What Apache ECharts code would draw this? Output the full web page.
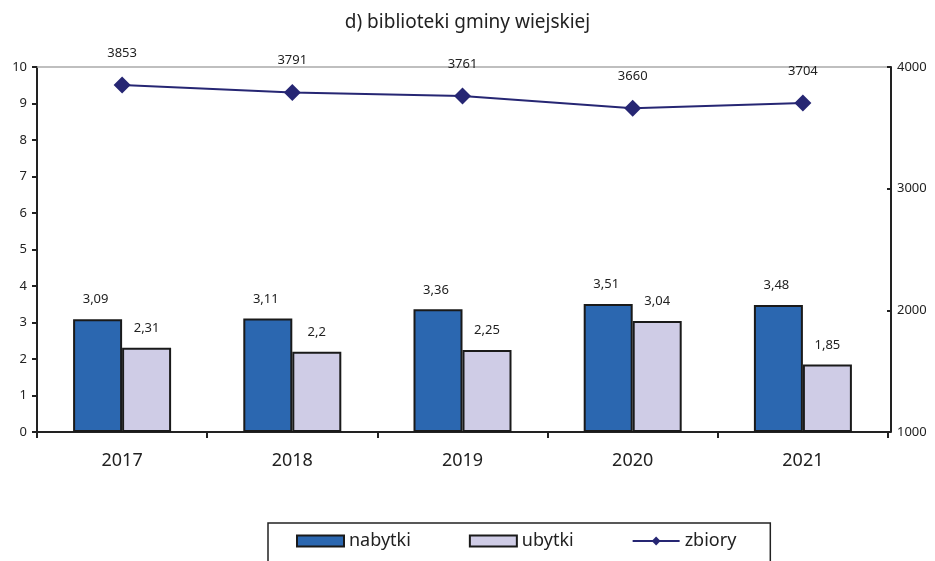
<!DOCTYPE html>
<html><head><meta charset="utf-8">
<script src="https://cdn.jsdelivr.net/npm/echarts@6/dist/echarts.min.js"></script>
<style>html,body{margin:0;padding:0;background:#fff}#c{width:935px;height:561px}</style>
</head><body><div id="c"></div>
<script>
const categories = ['2017','2018','2019','2020','2021'];
const nabytki = [3.09, 3.11, 3.36, 3.51, 3.48];
const ubytki = [2.31, 2.2, 2.25, 3.04, 1.85];
const zbiory = [3853, 3791, 3761, 3660, 3704];
const leftTicks = {min:0, max:10, interval:1};
const rightTicks = {min:1000, max:4000, interval:1000};

const font = 'Noto Sans';
const chart = echarts.init(document.getElementById('c'));
const comma = p => String(p.value).replace('.', ',');
chart.setOption({
  animation: false,
  textStyle: {fontFamily: font},
  title: {text: 'd) biblioteki gminy wiejskiej', left: 'center', top: 8,
    textStyle: {fontFamily: font, fontSize: 19, fontWeight: 'normal', color: '#222'}},
  grid: {left: 37, right: 47, top: 67, bottom: 129},
  legend: {
    left: 268, top: 523,
    padding: [9, 34, 20, 28],
    borderColor: '#222', borderWidth: 1.5,
    itemWidth: 47, itemHeight: 11, itemGap: 58,
    textStyle: {fontFamily: font, fontSize: 18, color: '#222'},
    data: [
      {name: 'nabytki', icon: 'rect'},
      {name: 'ubytki', icon: 'rect'},
      {name: 'zbiory'}
    ]
  },
  xAxis: [{
    type: 'category', data: categories,
    axisLine: {lineStyle: {color: '#222', width: 2}},
    axisTick: {show: true, length: 6, lineStyle: {color: '#222', width: 2}},
    axisLabel: {fontSize: 18, color: '#222', margin: 20}
  }, {
    type: 'category', data: categories, position: 'top',
    axisLine: {lineStyle: {color: '#aaa', width: 1.5}},
    axisTick: {show: false}, axisLabel: {show: false}
  }],
  yAxis: [{
    type: 'value', min: leftTicks.min, max: leftTicks.max, interval: leftTicks.interval,
    axisLine: {show: true, lineStyle: {color: '#222', width: 2}},
    axisTick: {show: true, length: 5, lineStyle: {color: '#222', width: 2}},
    axisLabel: {fontSize: 13, color: '#222', margin: 10},
    splitLine: {show: false}
  }, {
    type: 'value', min: rightTicks.min, max: rightTicks.max, interval: rightTicks.interval,
    position: 'right', offset: 3,
    axisLine: {show: true, lineStyle: {color: '#222', width: 2}},
    axisTick: {show: true, inside: true, length: 4, lineStyle: {color: '#222', width: 2}},
    axisLabel: {fontSize: 13, color: '#222', margin: 6, formatter: v => String(v)},
    splitLine: {show: false}
  }],
  series: [{
    name: 'nabytki', type: 'bar', data: nabytki, barWidth: 49, barGap: '0%',
    itemStyle: {color: '#2B67B0', borderColor: '#1a1a1a', borderWidth: 2},
    label: {show: true, position: 'top', distance: 13, fontSize: 13, color: '#222', formatter: comma, offset: [-2, 0]}
  }, {
    name: 'ubytki', type: 'bar', data: ubytki, barWidth: 49, barGap: '0%',
    itemStyle: {color: '#CFCCE6', borderColor: '#1a1a1a', borderWidth: 2},
    label: {show: true, position: 'top', distance: 13, fontSize: 13, color: '#222', formatter: comma}
  }, {
    name: 'zbiory', type: 'line', data: zbiory, yAxisIndex: 1,
    symbol: 'diamond', symbolSize: 17,
    lineStyle: {color: '#262673', width: 2},
    itemStyle: {color: '#262673'},
    label: {show: true, position: 'top', distance: 17, fontSize: 13, color: '#222'}
  }]
});
</script></body></html>
